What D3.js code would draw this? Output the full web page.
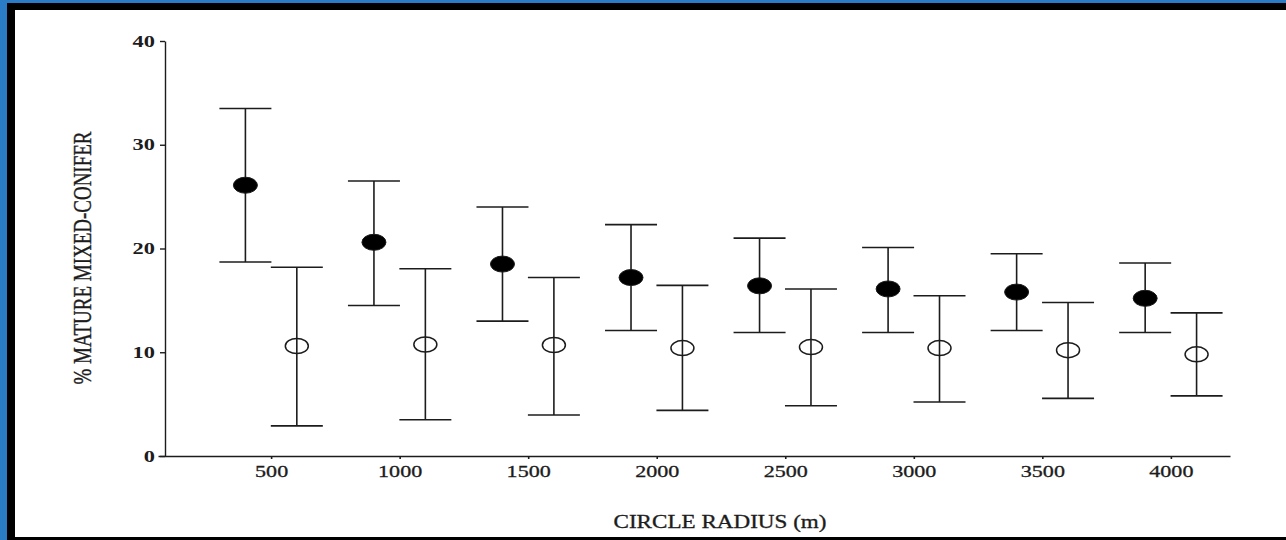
<!DOCTYPE html>
<html>
<head>
<meta charset="utf-8">
<script src="https://cdn.jsdelivr.net/npm/d3@7"></script>
<style>
  body { margin: 0; background: #fff; }
  svg { display: block; }
</style>
</head>
<body>
<div id="chart"></div>
<script>
// values
var radii = [500, 1000, 1500, 2000, 2500, 3000, 3500, 4000];
var yTicks = [0, 10, 20, 30, 40];

// filled circles
var solidMean = [26.1, 20.6, 18.5, 17.2, 16.4, 16.1, 15.8, 15.2];
var solidLow  = [18.7, 14.5, 13.0, 12.1, 11.9, 11.9, 12.1, 11.9];
var solidHigh = [33.5, 26.5, 24.0, 22.3, 21.0, 20.1, 19.5, 18.6];

// open circles
var openMean = [10.6, 10.75, 10.7, 10.4, 10.5, 10.4, 10.2, 9.8];
var openLow  = [2.9, 3.5, 3.95, 4.4, 4.85, 5.2, 5.55, 5.8];
var openHigh = [18.2, 18.05, 17.2, 16.45, 16.1, 15.45, 14.8, 13.8];

var W = 1286, H = 540;
var shift = 100; // metres each series is nudged left/right of its radius

var svg = d3.select("#chart").append("svg").attr("width", W).attr("height", H);

// slide frame
svg.append("rect").attr("x", 0).attr("y", 0).attr("width", W).attr("height", H).attr("fill", "#fff");
svg.append("rect").attr("x", 0).attr("y", 0).attr("width", 7).attr("height", H).attr("fill", "#2a7cc6");
svg.append("rect").attr("x", 0).attr("y", 0).attr("width", W).attr("height", 3).attr("fill", "#2a7cc6");
svg.append("rect").attr("x", 7).attr("y", 3).attr("width", 8).attr("height", H - 3).attr("fill", "#000");
svg.append("rect").attr("x", 7).attr("y", 3).attr("width", W - 7).attr("height", 7).attr("fill", "#000");
svg.append("rect").attr("x", 7).attr("y", 537).attr("width", W - 7).attr("height", 3).attr("fill", "#000");

var x = d3.scaleLinear().domain([60, 4230]).range([158, 1230]);
var y = d3.scaleLinear().domain([0, 40]).range([456, 41]);

var ink = "#1c1c1c";
var font = "'Liberation Serif', 'Times New Roman', serif";

// x axis
var gx = svg.append("g").attr("transform", "translate(0," + y(0) + ")")
  .call(d3.axisBottom(x).tickValues(radii).tickFormat(d3.format("d"))
    .tickSize(3).tickSizeOuter(0).tickPadding(6));
gx.select(".domain").attr("stroke", ink).attr("stroke-width", 1.4);
gx.selectAll(".tick line").attr("stroke", ink).attr("stroke-width", 1.6);
gx.selectAll(".tick text")
  .attr("font-family", font).attr("font-size", 17).attr("fill", ink)
  .attr("stroke", ink).attr("stroke-width", 0.3)
  .attr("transform", "scale(1.3,1)");

// y axis
var gy = svg.append("g").attr("transform", "translate(165,0)")
  .call(d3.axisLeft(y).tickValues(yTicks).tickSize(5).tickSizeOuter(0));
gy.select(".domain").attr("stroke", ink).attr("stroke-width", 1.4);
gy.selectAll(".tick line").attr("stroke", ink).attr("stroke-width", 1.4);
gy.selectAll(".tick text")
  .attr("x", 0)
  .attr("font-family", font).attr("font-size", 16).attr("font-weight", "bold").attr("fill", ink)
  .attr("transform", "translate(-10,0) scale(1.4,1)");

// titles
svg.append("text")
  .attr("transform", "translate(91,258) scale(1.3,1) rotate(-90)")
  .attr("text-anchor", "middle")
  .attr("font-family", font).attr("font-size", 19).attr("fill", ink)
  .attr("stroke", ink).attr("stroke-width", 0.3)
  .attr("textLength", 253).attr("lengthAdjust", "spacingAndGlyphs")
  .text("% MATURE MIXED-CONIFER");

svg.append("text")
  .attr("x", 720).attr("y", 528)
  .attr("text-anchor", "middle")
  .attr("font-family", font).attr("font-size", 18).attr("fill", ink)
  .attr("stroke", ink).attr("stroke-width", 0.3)
  .attr("textLength", 213).attr("lengthAdjust", "spacingAndGlyphs")
  .text("CIRCLE RADIUS (m)");

// error bars + markers
function series(mean, low, high, dx, filled) {
  var rows = radii.map(function (r, i) {
    return { r: r + dx, m: mean[i], lo: low[i], hi: high[i] };
  });
  var g = svg.append("g");
  var bar = g.selectAll("g").data(rows).enter().append("g");
  bar.append("line")
    .attr("x1", function (d) { return x(d.r); }).attr("x2", function (d) { return x(d.r); })
    .attr("y1", function (d) { return y(d.lo); }).attr("y2", function (d) { return y(d.hi); })
    .attr("stroke", ink).attr("stroke-width", 1.6);
  ["lo", "hi"].forEach(function (k) {
    bar.append("line")
      .attr("x1", function (d) { return x(d.r) - 26; }).attr("x2", function (d) { return x(d.r) + 26; })
      .attr("y1", function (d) { return y(d[k]); }).attr("y2", function (d) { return y(d[k]); })
      .attr("stroke", ink).attr("stroke-width", 1.6);
  });
  bar.append("ellipse")
    .attr("cx", function (d) { return x(d.r); })
    .attr("cy", function (d) { return y(d.m); })
    .attr("rx", filled ? 12 : 11.5).attr("ry", filled ? 8 : 7.5)
    .attr("fill", filled ? "#000" : "none")
    .attr("stroke", ink).attr("stroke-width", filled ? 1 : 1.5);
}

series(solidMean, solidLow, solidHigh, -shift, true);
series(openMean, openLow, openHigh, shift, false);
</script>
</body>
</html>
